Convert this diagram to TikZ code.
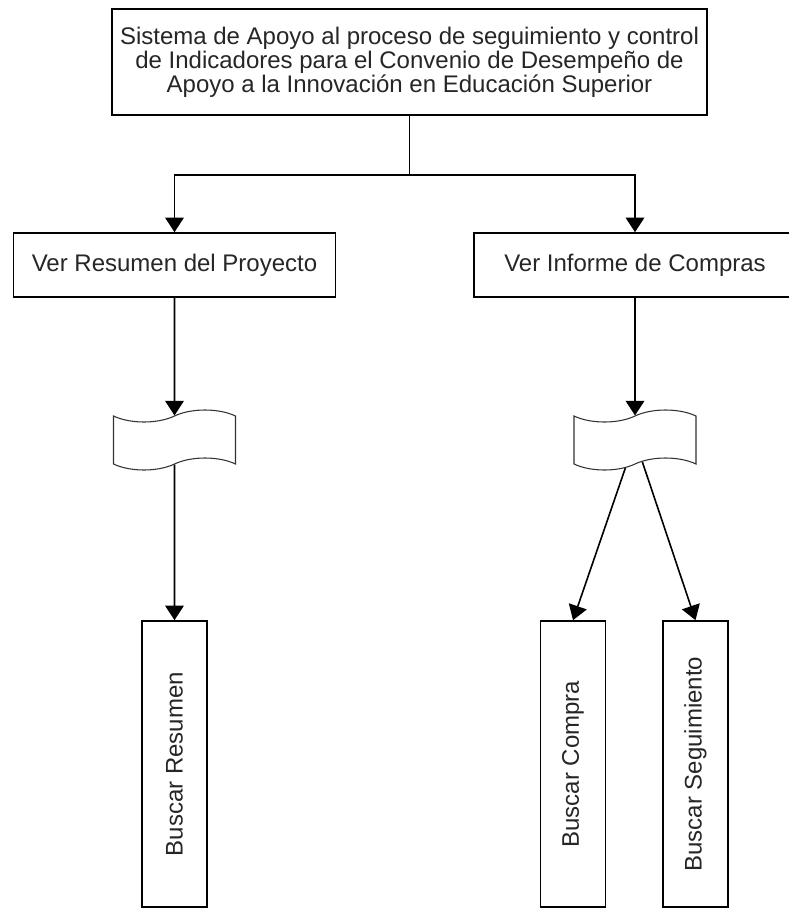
\documentclass[tikz,border=0pt]{standalone}
\usepackage{fontspec}
\setmainfont{Liberation Sans}
\usetikzlibrary{arrows.meta,positioning,shapes.symbols}

\begin{document}
\begin{tikzpicture}[x=0.75pt,y=-0.75pt,->,>={Triangle[width=14pt,length=11pt]},
                    line width=1.2pt,
                    box/.style={draw,rectangle,fill=white,inner sep=0pt,align=center,
                      text=black!85,font=\fontsize{18}{18}\selectfont},
                    tapebox/.style={draw=black!80,tape,fill=white,line width=0.8pt,
                      minimum width=91.5pt,minimum height=45pt,tape bend height=9pt},
                    buscar/.style={box,rotate=90,minimum width=214.5pt,minimum height=48.75pt}]
    \useasboundingbox (0,0) rectangle (789,908);
    \node [box,minimum width=446.25pt,minimum height=79.5pt] (sistema) at (409.5,62)
        {Sistema de Apoyo al proceso de seguimiento y control\\
         de Indicadores para el Convenio de Desempeño de\\
         Apoyo a la Innovación en Educación Superior};
    \node [box,minimum width=241.5pt,minimum height=48pt] (resumen) at (174.5,265) {Ver Resumen del Proyecto};
    \node [box,minimum width=241.5pt,minimum height=48pt] (informe) at (635,265) {Ver Informe de Compras};
    \node [tapebox] (cinta1) at (174.5,440) {};
    \node [tapebox] (cinta2) at (635,440) {};
    \node [buscar] (bresumen)     at (174.5,764) {Buscar Resumen};
    \node [buscar] (bcompra)      at (573,764)   {Buscar Compra};
    \node [buscar] (bseguimiento) at (695.5,764) {Buscar Seguimiento};

    \coordinate (rama) at (409.5,175);
    \draw [-] (sistema.south) -- (rama);
    \draw (rama) -| (resumen.north);
    \draw (rama) -| (informe.north);
    \draw (resumen) -- (cinta1);
    \draw (informe) -- (cinta2);
    \draw (cinta1) -- (bresumen.east);
    \draw (cinta2) -- (bcompra.east);
    \draw (cinta2) -- (bseguimiento.east);
\end{tikzpicture}
\end{document}
